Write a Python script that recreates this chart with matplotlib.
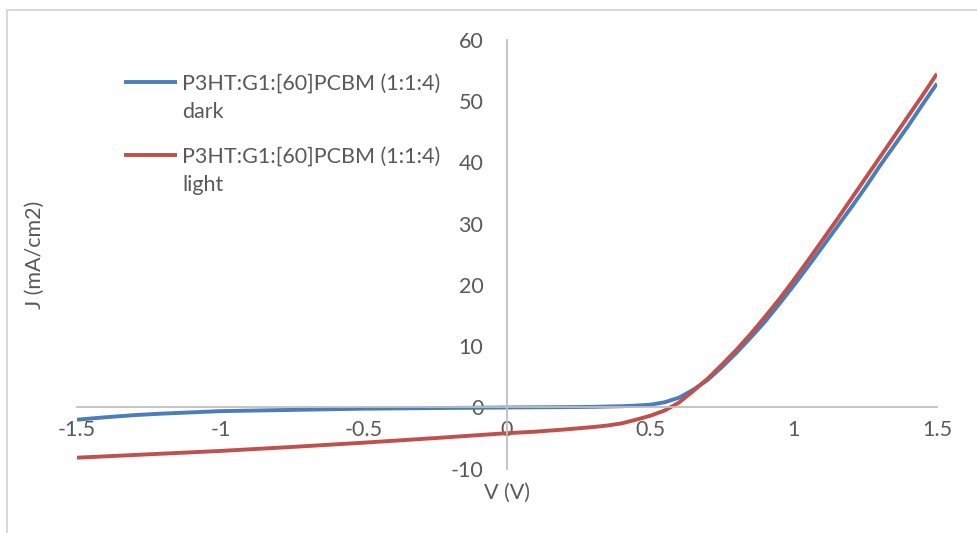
import numpy as np
import matplotlib.pyplot as plt
from matplotlib.lines import Line2D

# Напряжение (В) и плотность тока (мА/см2)
v_dark = [-1.5, -1.4, -1.3, -1.2, -1.1, -1.0, -0.75, -0.5, -0.25, 0.0, 0.2, 0.3, 0.4,
          0.45, 0.5, 0.55, 0.6, 0.65, 0.7, 0.75, 0.8, 0.85, 0.9, 0.95, 1.0, 1.05, 1.1,
          1.15, 1.2, 1.25, 1.3, 1.35, 1.4, 1.45, 1.5]
j_dark = [-2.0, -1.6, -1.25, -1.0, -0.8, -0.6, -0.4, -0.2, -0.1, 0.0, 0.05, 0.1, 0.2,
          0.3, 0.45, 0.85, 1.6, 2.9, 4.5, 6.6, 8.9, 11.4, 14.0, 16.9, 19.9, 23.0, 26.2,
          29.4, 32.6, 35.9, 39.4, 42.7, 46.0, 49.5, 52.9]

v_light = [-1.5, -1.25, -1.0, -0.75, -0.5, -0.25, 0.0, 0.1, 0.2, 0.3, 0.35, 0.4, 0.45,
           0.5, 0.55, 0.6, 0.65, 0.7, 0.75, 0.8, 0.85, 0.9, 0.95, 1.0, 1.05, 1.1, 1.15,
           1.2, 1.25, 1.3, 1.35, 1.4, 1.45, 1.5]
j_light = [-8.2, -7.65, -7.1, -6.45, -5.75, -5.0, -4.2, -3.95, -3.6, -3.2, -2.95, -2.6, -2.0,
           -1.35, -0.5, 0.8, 2.7, 4.7, 7.0, 9.4, 12.0, 14.8, 17.7, 20.8, 24.0, 27.3, 30.6,
           34.0, 37.4, 40.8, 44.2, 47.6, 51.0, 54.5]

labels = ['P3HT:G1:[60]PCBM (1:1:4)\ndark', 'P3HT:G1:[60]PCBM (1:1:4)\nlight']
colors = ['#4a7ebb', '#c0504d']
x_ticks = [-1.5, -1, -0.5, 0, 0.5, 1, 1.5]
x_tick_labels = ['-1.5', '-1', '-0.5', '0', '0.5', '1', '1.5']
y_ticks = [-10, 0, 10, 20, 30, 40, 50, 60]

plt.rcParams['font.family'] = ['Lato', 'DejaVu Sans']
plt.rcParams['axes.unicode_minus'] = False
text_col = '#595959'
axis_col = '#bfbfbf'
fs = 15.5

fig = plt.figure(figsize=(9.78, 5.33), dpi=100)
ax = fig.add_axes([77 / 978, 1 - 468.7 / 533, 860 / 978, 428.7 / 533])

ax.plot(v_dark, j_dark, color=colors[0], lw=2.8, solid_capstyle='butt')
ax.plot(v_light, j_light, color=colors[1], lw=2.8, solid_capstyle='butt')

ax.set_xlim(-1.5, 1.5)
ax.set_ylim(-10, 60)
ax.spines['left'].set_position(('data', 0))
ax.spines['bottom'].set_position(('data', 0))
ax.spines['top'].set_visible(False)
ax.spines['right'].set_visible(False)
for s in ('left', 'bottom'):
    ax.spines[s].set_color(axis_col)
    ax.spines[s].set_linewidth(1.3)
ax.set_xticks(x_ticks)
ax.set_xticklabels(x_tick_labels)
ax.set_yticks(y_ticks)
ax.tick_params(axis='x', length=0, pad=9, labelsize=fs, labelcolor=text_col)
ax.tick_params(axis='y', length=0, pad=17, labelsize=fs, labelcolor=text_col)
ax.patch.set_visible(False)

fig.text(35 / 978, 1 - 255 / 533, 'J (mA/cm2)', rotation=90, ha='center', va='center',
         fontsize=fs, color=text_col)
fig.text(507 / 978, 1 - 493 / 533, 'V (V)', ha='center', va='center',
         fontsize=fs, color=text_col)

# легенда вручную: линия на уровне первой строки подписи
W, H = 978, 533
for i, lab in enumerate(labels):
    y0 = 82 + i * 73
    fig.add_artist(Line2D([124 / W, 177 / W], [1 - y0 / H, 1 - y0 / H],
                          color=colors[i], lw=2.8, solid_capstyle='butt'))
    for k, line in enumerate(lab.split('\n')):
        fig.text(182 / W, 1 - (y0 + k * 28) / H, line, ha='left', va='center_baseline',
                 fontsize=fs, color=text_col)

# рамка диаграммы
fig.add_artist(Line2D([7 / W, 1], [1 - 10 / H, 1 - 10 / H], color='#d9d9d9', lw=1.5))
fig.add_artist(Line2D([7 / W, 7 / W], [0, 1 - 10 / H], color='#d9d9d9', lw=1.5))

fig.savefig('out.png', dpi=100)
